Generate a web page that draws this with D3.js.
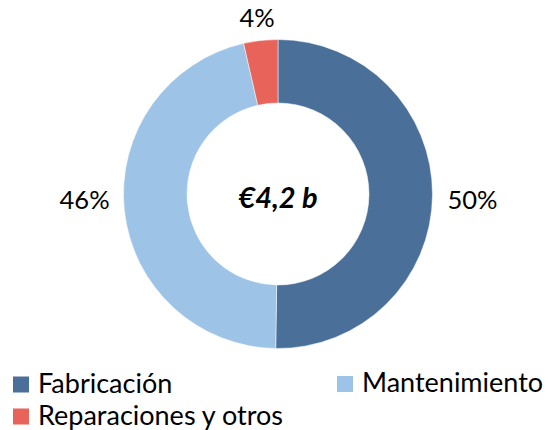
<!DOCTYPE html>
<html>
<head>
<meta charset="utf-8">
<script src="https://cdn.jsdelivr.net/npm/d3@7/dist/d3.min.js"></script>
<style>
  body { margin: 0; background: #fff; }
  text { font-family: Lato, "Open Sans", sans-serif; fill: #000; }
</style>
</head>
<body>
<div id="chart"></div>
<script>
// data (billions of euros)
var categories = ["Fabricación", "Mantenimiento", "Reparaciones y otros"];
var values = [2.11, 1.94, 0.15];
var colors = ["#4a7099", "#9dc3e6", "#e8645a"];
var centerLabel = "€4,2 b";

var w = 549;
var h = 430;
var cx = 278, cy = 194;
var outerR = 154.5, innerR = 91;

var svg = d3.select("#chart").append("svg").attr("width", w).attr("height", h);

var total = d3.sum(values);
var pie = d3.pie().sort(null).value(function(d) { return d; });
var arcs = pie(values);
var arc = d3.arc().innerRadius(innerR).outerRadius(outerR);

var g = svg.append("g").attr("transform", "translate(" + cx + "," + cy + ")");

g.selectAll("path")
  .data(arcs)
  .enter()
  .append("path")
  .attr("d", arc)
  .attr("fill", function(d, i) { return colors[i]; })
  .attr("stroke", "#fff")
  .attr("stroke-width", 0.5);

// percentage labels, outside end
var pad = 15;
var labels = g.selectAll("text.pct")
  .data(arcs)
  .enter()
  .append("text")
  .attr("class", "pct")
  .attr("font-size", 25.5)
  .attr("text-anchor", "middle")
  .attr("dominant-baseline", "central")
  .text(function(d) { return Math.round(d.value / total * 100) + "%"; });

labels.each(function(d) {
  var a = (d.startAngle + d.endAngle) / 2;
  var tw = this.getComputedTextLength();
  var th = 18;
  var x = (outerR + pad) * Math.sin(a) + tw / 2 * Math.sin(a);
  var y = -(outerR + pad) * Math.cos(a) - th / 2 * Math.cos(a);
  // side labels sit roughly level with the centre
  if (Math.abs(Math.sin(a)) > 0.95) y = 5;
  d3.select(this).attr("x", x).attr("y", y);
});

g.append("text")
  .attr("text-anchor", "middle")
  .attr("dominant-baseline", "central")
  .attr("font-size", 29)
  .attr("font-weight", "bold")
  .attr("font-style", "italic")
  .attr("y", 2)
  .text(centerLabel);

// legend
var legendPos = [[13, 376.5], [337, 376], [13, 408.5]];
var legend = svg.selectAll("g.legend")
  .data(categories)
  .enter()
  .append("g")
  .attr("class", "legend")
  .attr("transform", function(d, i) { return "translate(" + legendPos[i][0] + "," + legendPos[i][1] + ")"; });

legend.append("rect")
  .attr("width", 16)
  .attr("height", 16)
  .attr("fill", function(d, i) { return colors[i]; });

legend.append("text")
  .attr("x", 25)
  .attr("y", 16)
  .attr("font-size", 27)
  .text(function(d) { return d; });
</script>
</body>
</html>
